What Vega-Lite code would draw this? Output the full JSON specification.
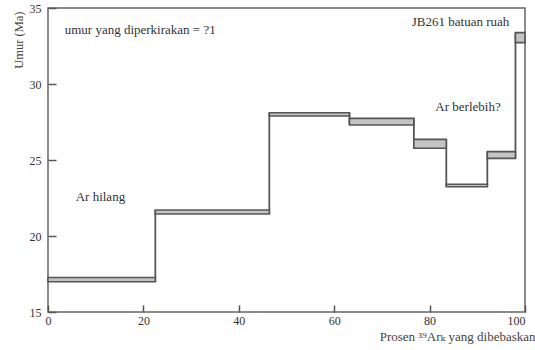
{
  "$schema": "https://vega.github.io/schema/vega-lite/v6.json",
  "autosize": "none",
  "width": 477,
  "height": 304,
  "padding": {"left": 48, "top": 8, "right": 10, "bottom": 38},
  "background": "white",
  "config": {
    "view": {"stroke": "#666", "strokeWidth": 1.5},
    "font": "Liberation Serif, DejaVu Serif, serif",
    "axis": {
      "grid": false,
      "domain": false,
      "labelFont": "Liberation Serif, DejaVu Serif, serif",
      "labelFontSize": 12,
      "labelColor": "#333",
      "titleFont": "Liberation Serif, DejaVu Serif, serif",
      "titleFontWeight": "normal",
      "titleFontSize": 12.5,
      "titleColor": "#444",
      "tickColor": "#555",
      "tickWidth": 1.5
    }
  },
  "datasets": {
    "steps": [
      {"x0": 0, "x1": 22.5, "lo": 16.99, "hi": 17.27},
      {"x0": 22.5, "x1": 46.4, "lo": 21.45, "hi": 21.71},
      {"x0": 46.4, "x1": 63.2, "lo": 27.89, "hi": 28.11},
      {"x0": 63.2, "x1": 76.7, "lo": 27.30, "hi": 27.74},
      {"x0": 76.7, "x1": 83.5, "lo": 25.77, "hi": 26.36},
      {"x0": 83.5, "x1": 92.1, "lo": 23.24, "hi": 23.40},
      {"x0": 92.1, "x1": 98.0, "lo": 25.11, "hi": 25.55},
      {"x0": 98.0, "x1": 100, "lo": 32.72, "hi": 33.38}
    ],
    "links": [
      {"x": 22.5, "a": 16.99, "b": 21.71},
      {"x": 46.4, "a": 21.45, "b": 28.11},
      {"x": 63.2, "a": 27.30, "b": 28.11},
      {"x": 76.7, "a": 25.77, "b": 27.74},
      {"x": 83.5, "a": 23.24, "b": 26.36},
      {"x": 92.1, "a": 23.24, "b": 25.55},
      {"x": 98.0, "a": 25.11, "b": 33.38}
    ],
    "notes": [
      {"x": 3.5, "y": 33.55, "label": "umur yang diperkirakan = ?1", "side": "left"},
      {"x": 96.7, "y": 34.1, "label": "JB261 batuan ruah", "side": "right"},
      {"x": 81.2, "y": 28.47, "label": "Ar berlebih?", "side": "left"},
      {"x": 5.8, "y": 22.55, "label": "Ar hilang", "side": "left"}
    ]
  },
  "layer": [
    {
      "data": {"name": "links"},
      "mark": {"type": "rule", "color": "#555", "strokeWidth": 1.8},
      "encoding": {
        "x": {"field": "x", "type": "quantitative", "scale": {"domain": [0, 100], "nice": false},
          "axis": {"values": [0, 20, 40, 60, 80, 100], "tickSize": -7, "labelPadding": 10,
            "labelAlign": {"condition": {"test": "datum.value == 100", "value": "right"}, "value": "center"},
            "labelDx": {"condition": {"test": "datum.value == 100", "value": 3}, "value": 0},
            "title": "Prosen ³⁹Arₖ yang dibebaskan", "titleFontSize": 13, "titleAnchor": "end", "titlePadding": 4, "titleX": 487}},
        "y": {"field": "a", "type": "quantitative", "scale": {"domain": [15, 35], "nice": false},
          "axis": {"values": [15, 20, 25, 30, 35], "tickSize": -8, "labelPadding": 15,
            "title": "Umur (Ma)", "titleAnchor": "end", "titlePadding": 4, "titleY": 3, "titleAlign": "right"}},
        "y2": {"field": "b"}
      }
    },
    {
      "data": {"name": "steps"},
      "mark": {"type": "rect", "fill": "#c4c4c4", "stroke": "#555", "strokeWidth": 1.6},
      "encoding": {
        "x": {"field": "x0", "type": "quantitative"},
        "x2": {"field": "x1"},
        "y": {"field": "lo", "type": "quantitative"},
        "y2": {"field": "hi"}
      }
    },
    {
      "data": {"name": "notes"},
      "transform": [{"filter": "datum.side == 'left'"}],
      "mark": {"type": "text", "font": "Liberation Serif, DejaVu Serif, serif", "fontSize": 13, "color": "#333", "baseline": "middle", "align": "left"},
      "encoding": {
        "x": {"field": "x", "type": "quantitative"},
        "y": {"field": "y", "type": "quantitative"},
        "text": {"field": "label"}
      }
    },
    {
      "data": {"name": "notes"},
      "transform": [{"filter": "datum.side == 'right'"}],
      "mark": {"type": "text", "font": "Liberation Serif, DejaVu Serif, serif", "fontSize": 13, "color": "#333", "baseline": "middle", "align": "right"},
      "encoding": {
        "x": {"field": "x", "type": "quantitative"},
        "y": {"field": "y", "type": "quantitative"},
        "text": {"field": "label"}
      }
    }
  ]
}
